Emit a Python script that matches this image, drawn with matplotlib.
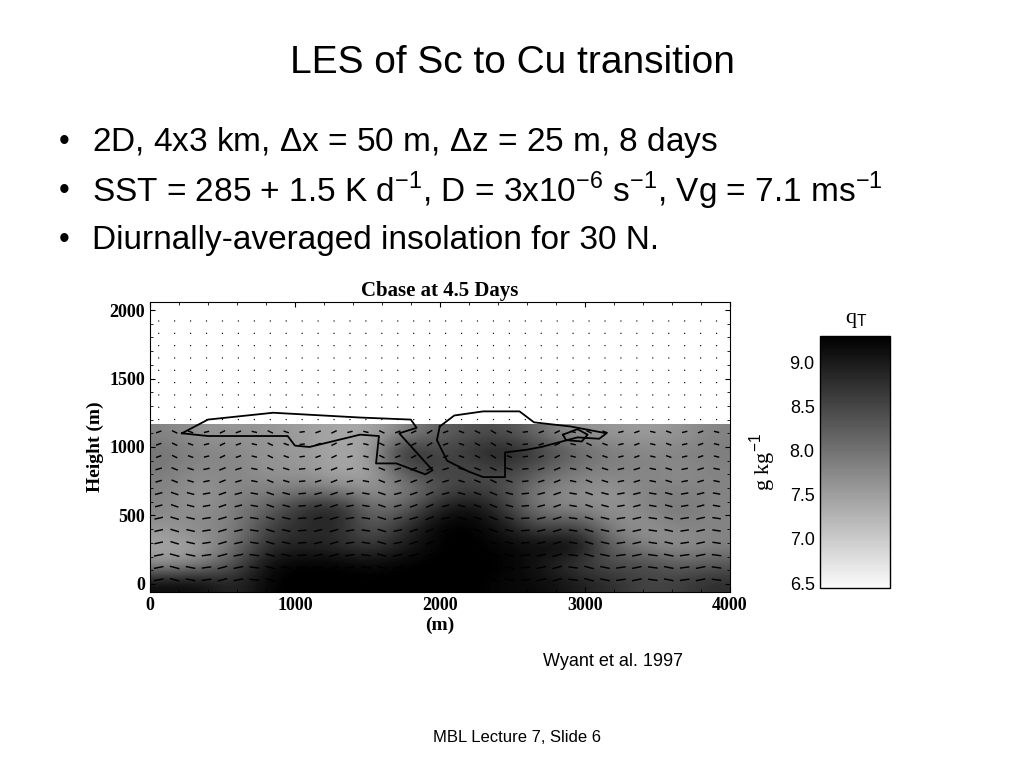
import numpy as np
import matplotlib
matplotlib.use("Agg")
import matplotlib.pyplot as plt

plt.rcParams['font.family'] = ['Liberation Sans', 'DejaVu Sans']
plt.rcParams['mathtext.fontset'] = 'custom'
plt.rcParams['mathtext.rm'] = 'Liberation Sans'

# ---- data ----------------------------------------------------------------
x_grid = [0, 250, 500, 750, 1000, 1250, 1500, 1750, 2000, 2250, 2500, 2750,
          3000, 3250, 3500, 3750, 4000]
z_grid = [0, 150, 300, 450, 600, 750, 900, 1050, 1160]
qt = [
    [9.2, 9.2, 8.8, 9.3, 9.3, 9.3, 9.3, 9.3, 9.3, 9.3, 9.2, 9.2, 9.0, 8.8, 8.5, 8.6, 8.8],
    [7.6, 7.8, 8.4, 9.2, 9.3, 9.3, 9.2, 9.3, 9.3, 9.3, 9.3, 9.0, 8.6, 8.4, 8.5, 8.2, 8.3],
    [7.4, 7.5, 8.0, 8.8, 8.9, 8.8, 8.6, 9.0, 9.3, 9.3, 9.2, 9.2, 9.3, 8.2, 7.8, 7.6, 7.8],
    [7.6, 7.8, 7.8, 8.6, 8.8, 8.9, 8.2, 8.8, 9.3, 9.3, 9.0, 8.4, 8.6, 7.8, 7.6, 7.8, 7.8],
    [7.8, 7.6, 7.9, 8.2, 8.8, 9.0, 8.0, 8.2, 9.0, 9.2, 8.6, 7.8, 7.8, 7.6, 7.8, 8.0, 7.8],
    [7.8, 7.6, 7.8, 7.8, 7.9, 7.8, 7.6, 7.8, 8.4, 8.6, 8.4, 7.8, 7.7, 7.6, 7.8, 7.8, 7.8],
    [7.9, 7.7, 7.8, 7.6, 7.6, 7.4, 7.4, 8.4, 8.6, 8.4, 8.6, 8.2, 7.9, 7.8, 7.8, 7.7, 7.8],
    [8.0, 7.8, 7.8, 7.6, 7.6, 7.4, 7.5, 9.0, 8.4, 8.8, 9.0, 8.6, 8.2, 7.9, 7.8, 7.8, 7.9],
    [7.8, 7.6, 7.6, 7.6, 7.5, 7.4, 7.4, 7.8, 8.2, 8.4, 8.4, 8.0, 7.6, 7.6, 7.5, 7.6, 7.8],
]
inversion_z = 1160

# wind vectors: horizontal profile by height, vertical perturbation by column
vec_x = np.arange(60, 4000, 110)
vec_z = np.arange(30, 2000, 90)
u_prof = [0.9, 0.9, 0.9, 0.8, 0.8, 0.8, 0.7, 0.7, 0.6, 0.6, 0.5, 0.5, 0.5,
          0.1, 0.0, 0.0, 0.0, 0.0, 0.0, 0.0, 0.0, 0.0]
w_col = [0.3, -0.4, -0.3, 0.2, 0.4, 0.3, -0.2, -0.4, -0.3, 0.1, 0.3, 0.4,
         0.2, -0.2, -0.4, 0.3, 0.4, 0.5, 0.3, -0.3, -0.4, -0.5, -0.3, 0.1,
         0.3, 0.4, -0.2, -0.4, -0.3, 0.2, 0.3, -0.2, -0.3, 0.2, 0.3, -0.2]
w_free = 0.12

cloud_left_x = [220, 400, 850, 1450, 1800, 1840, 1720, 1950, 1900, 1700, 1560,
                1580, 1450, 1100, 1000, 950, 400, 220]
cloud_left_z = [1100, 1200, 1250, 1215, 1200, 1140, 1100, 830, 800, 880, 880,
                1080, 1090, 1000, 1010, 1080, 1080, 1100]
cloud_right_x = [2000, 2100, 2300, 2550, 2650, 2900, 3150, 3100, 2950, 2700,
                 2600, 2450, 2450, 2300, 2200, 2050, 1980, 2000]
cloud_right_z = [1150, 1230, 1260, 1260, 1180, 1150, 1100, 1060, 1070, 1000,
                 980, 960, 780, 780, 820, 900, 1050, 1150]
cloud_small_x = [2850, 2950, 3020, 2980, 2870, 2850]
cloud_small_z = [1090, 1130, 1090, 1040, 1050, 1090]

cbar_ticks = [6.5, 7.0, 7.5, 8.0, 8.5, 9.0]

# ---- figure ---------------------------------------------------------------
fig = plt.figure(figsize=(10.24, 7.68), dpi=100)
fig.text(0.5, 0.918, "LES of Sc to Cu transition", ha="center", va="center", fontsize=28)
bullets = [
    r"2D, 4x3 km, $\Delta$x = 50 m, $\Delta$z = 25 m, 8 days",
    r"SST = 285 + 1.5 K d$^{-1}$, D = 3x10$^{-6}$ s$^{-1}$, Vg = 7.1 ms$^{-1}$",
    "Diurnally-averaged insolation for 30 N.",
]
for i, b in enumerate(bullets):
    y = 1 - (142 + 49 * i) / 768
    fig.text(0.057, y, "\u2022", fontsize=22, va="center")
    fig.text(0.09, y, b, fontsize=24, va="center")

ax = fig.add_axes([0.1465, 0.229, 0.566, 0.378])
field = np.array(qt)
im = ax.imshow(field, origin="lower", cmap="gray_r", vmin=6.4, vmax=9.3,
               extent=[x_grid[0], x_grid[-1], -60, z_grid[-1]],
               interpolation="bicubic", aspect="auto")
X, Z = np.meshgrid(vec_x, vec_z)
U = np.array(u_prof)[:, None] * np.ones_like(X, dtype=float)
W = np.where(Z < inversion_z, np.array(w_col)[None, :] * 0.6, w_free)
U = np.where(Z < inversion_z, U, 0.0)
ax.quiver(X, Z, U, W, pivot="middle", headwidth=0, headlength=0, headaxislength=0,
          scale=55, width=0.0025, color="black")
for cx, cz in [(cloud_left_x, cloud_left_z), (cloud_right_x, cloud_right_z),
               (cloud_small_x, cloud_small_z)]:
    ax.plot(cx, cz, color="black", lw=1.3)
ax.set_xlim(0, 4000)
ax.set_ylim(-60, 2060)
ax.set_xticks([0, 1000, 2000, 3000, 4000])
ax.set_yticks([0, 500, 1000, 1500, 2000])
ax.minorticks_on()
ax.tick_params(direction="in", which="both", top=True, right=True, labelsize=13)
for lab in ax.get_xticklabels() + ax.get_yticklabels():
    lab.set_family("Liberation Serif")
    lab.set_weight("bold")
ax.set_xlabel("(m)", family="Liberation Serif", fontsize=14, fontweight="bold", labelpad=2)
ax.set_ylabel("Height (m)", family="Liberation Serif", fontsize=14, fontweight="bold")
ax.set_title("Cbase at 4.5 Days", family="Liberation Serif", fontsize=15,
             fontweight="bold", pad=4)

cax = fig.add_axes([0.801, 0.234, 0.068, 0.329])
cb = fig.colorbar(im, cax=cax, ticks=cbar_ticks)
cb.outline.set_linewidth(1.0)
cax.yaxis.set_ticks_position("left")
cax.yaxis.set_label_position("left")
cax.tick_params(direction="in", length=0, labelsize=13, pad=4)
for lab in cax.get_yticklabels():
    lab.set_family("Liberation Sans")
cax.set_ylim(6.44, 9.31)
cb.set_label(r"g kg$^{-1}$", family="Liberation Serif", fontsize=16, labelpad=8)
fig.text(0.836, 0.58, r"q$_\mathrm{T}$", family="Liberation Serif", fontsize=16, ha="center")

fig.text(0.53, 1 - 662 / 768, "Wyant et al. 1997", fontsize=13, va="center")
fig.text(0.505, 1 - 737 / 768, "MBL Lecture 7, Slide 6", fontsize=12, ha="center", va="center")

fig.savefig("out.png", dpi=100)
